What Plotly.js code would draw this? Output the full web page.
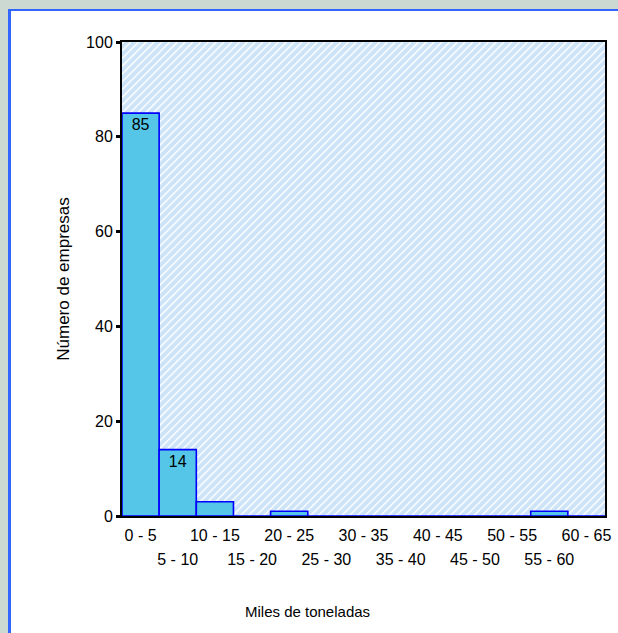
<!DOCTYPE html>
<html>
<head>
<meta charset="utf-8">
<script src="https://cdn.plot.ly/plotly-3.0.1.min.js"></script>
<style>
html,body{margin:0;padding:0;width:618px;height:633px;overflow:hidden;background:#CBD9D2;}
#frame{position:absolute;left:8px;top:9px;width:607px;height:624px;border-left:3px solid #3366FF;border-top:2px solid #3366FF;background:#ffffff;overflow:hidden;}
#chart{position:absolute;left:0;top:0;width:607px;height:622px;}
</style>
</head>
<body>
<div id="frame"><div id="chart"></div></div>
<script>
const categories = ['0 - 5','5 - 10','10 - 15','15 - 20','20 - 25','25 - 30','30 - 35','35 - 40','40 - 45','45 - 50','50 - 55','55 - 60','60 - 65'];
const counts = [85, 14, 3, 0, 1, 0, 0, 0, 0, 0, 0, 1, 0];
const barLabels = ['85', '14', '', '', '', '', '', '', '', '', '', '', ''];
const yTicks = [0, 20, 40, 60, 80, 100];
const xTitle = 'Miles de toneladas';
const yTitle = 'Número de empresas';

const idx = categories.map((c, i) => i);
const row1 = idx.filter(i => i % 2 === 0);
const row2 = idx.filter(i => i % 2 === 1);

const hatch = "<svg xmlns='http://www.w3.org/2000/svg' width='483' height='474'><defs><pattern id='h' width='5.5' height='5.5' patternUnits='userSpaceOnUse' patternTransform='rotate(45)'><rect width='5.5' height='5.5' fill='#CDE3F7'/><rect width='1.4' height='5.5' fill='#FFFFFF'/></pattern></defs><rect width='483' height='474' fill='url(#h)'/></svg>";

const font = 'Liberation Sans, Arial, sans-serif';

const trace = {
  type: 'bar',
  x: idx,
  y: counts,
  text: barLabels,
  textposition: 'inside',
  insidetextanchor: 'end',
  textangle: 0,
  constraintext: 'none',
  textfont: {family: font, size: 16, color: '#000000'},
  marker: {color: '#55C6E7', line: {color: '#0000FF', width: 1.6}},
  width: 1,
  hoverinfo: 'x+y',
  cliponaxis: false
};

// companion trace so the second (lower row) label axis is drawn
const traceRow2 = {
  type: 'scatter',
  x: idx,
  y: counts,
  xaxis: 'x2',
  yaxis: 'y',
  mode: 'none',
  hoverinfo: 'skip',
  showlegend: false
};

const layout = {
  width: 607,
  height: 622,
  margin: {l: 111, r: 13, t: 31, b: 117, pad: 0},
  paper_bgcolor: '#ffffff',
  plot_bgcolor: 'rgba(0,0,0,0)',
  font: {family: font, size: 16, color: '#000000'},
  showlegend: false,
  bargap: 0,
  xaxis: {
    range: [-0.5, 12.5],
    tickmode: 'array',
    tickvals: row1,
    ticktext: row1.map(i => categories[i]),
    ticks: '',
    showgrid: false,
    zeroline: false,
    showline: true,
    mirror: true,
    linecolor: '#000000',
    linewidth: 2,
    tickfont: {family: font, size: 16, color: '#000000'},
    ticklabelstandoff: 4,
    fixedrange: true
  },
  xaxis2: {
    overlaying: 'x',
    anchor: 'y',
    side: 'bottom',
    range: [-0.5, 12.5],
    tickmode: 'array',
    tickvals: row2,
    ticktext: row2.map(i => categories[i]),
    ticks: '',
    showgrid: false,
    zeroline: false,
    showline: false,
    tickfont: {family: font, size: 16, color: '#000000'},
    ticklabelstandoff: 32,
    fixedrange: true
  },
  yaxis: {
    range: [0, 100],
    tickmode: 'array',
    tickvals: yTicks,
    ticks: 'outside',
    ticklen: 4,
    tickwidth: 3,
    tickcolor: '#000000',
    showgrid: false,
    zeroline: false,
    showline: true,
    mirror: true,
    linecolor: '#000000',
    linewidth: 2,
    tickfont: {family: font, size: 16, color: '#000000'},
    title: {text: yTitle, font: {family: font, size: 17, color: '#000000'}, standoff: 12},
    fixedrange: true
  },
  images: [{
    source: 'data:image/svg+xml;charset=utf-8,' + encodeURIComponent(hatch),
    xref: 'paper', yref: 'paper', x: 0, y: 1, sizex: 1, sizey: 1,
    xanchor: 'left', yanchor: 'top', sizing: 'stretch', layer: 'below'
  }],
  annotations: [{
    text: xTitle,
    xref: 'paper', yref: 'paper',
    x: (307 - 122) / 483, y: (516 - 611) / 474,
    xanchor: 'center', yanchor: 'middle',
    showarrow: false,
    font: {family: font, size: 15, color: '#000000'}
  }]
};

Plotly.newPlot('chart', [trace, traceRow2], layout, {displayModeBar: false, staticPlot: true});
</script>
</body>
</html>
